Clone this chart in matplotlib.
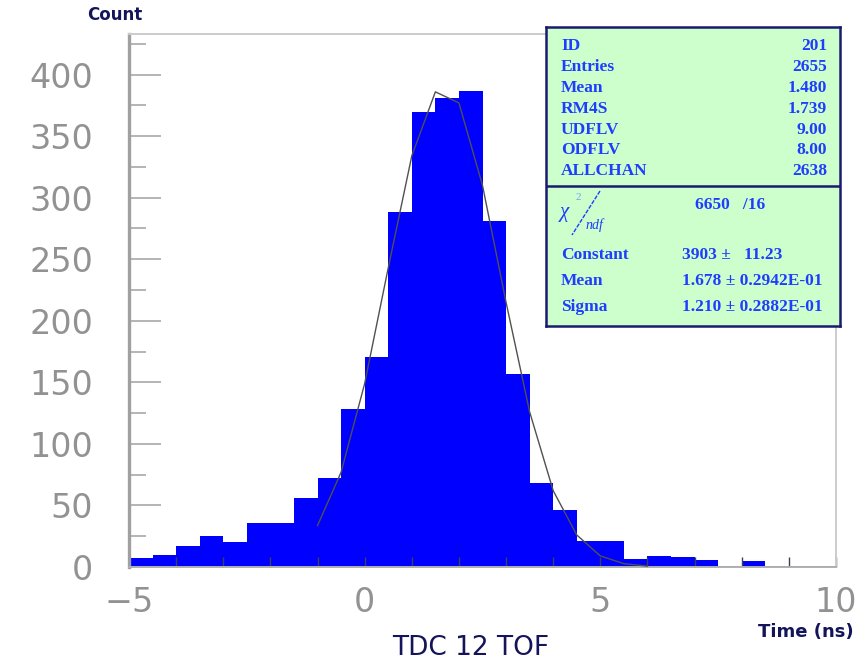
import numpy as np
import matplotlib
matplotlib.use("Agg")
import matplotlib.pyplot as plt
from matplotlib.lines import Line2D

# histogram: 30 bins of 0.5 ns from -5 to 10
bin_edges = [-5 + 0.5 * i for i in range(31)]
counts = [7, 10, 17, 25, 20, 36, 36, 56, 72, 128,
          171, 288, 370, 381, 387, 281, 157, 68, 46, 21,
          21, 6.5, 9, 8, 6, 1, 5, 1, 1, 1]

# gaussian fit polyline
fit_x = [-1.0, -0.5, 0.0, 0.5, 1.0, 1.5, 2.0,
         2.5, 3.0, 3.5, 4.0, 4.5, 5.0, 5.5, 6.0]
fit_y = [33.7, 77, 149, 243, 334, 386, 377,
         310, 215, 126, 62, 26, 9, 2.7, 0.7]

y_ticks = [0, 50, 100, 150, 200, 250, 300, 350, 400]
x_ticks = [-5, 0, 5, 10]

stats_rows = [("ID", "201"), ("Entries", "2655"), ("Mean", "1.480"),
              ("RM4S", "1.739"), ("UDFLV", "9.00"), ("ODFLV", "8.00"),
              ("ALLCHAN", "2638")]
chi2_text = "6650   /16"
fit_rows = [("Constant", "3903 ±   11.23"),
            ("Mean", "1.678 ± 0.2942E-01"),
            ("Sigma", "1.210 ± 0.2882E-01")]

W, H = 864, 671
fig = plt.figure(figsize=(W / 100, H / 100), dpi=100)


def fx(px):
    return px / W


def fy(py):
    return 1 - py / H


ax = fig.add_axes([fx(129), fy(567), fx(836 - 129), (567 - 34) / H])
ax.bar(bin_edges[:-1], counts, width=0.5, align="edge",
       color="#0000ff", edgecolor="none", zorder=1)
ax.plot(fit_x, fit_y, color="#505050", lw=1.0, zorder=3)

ax.set_xlim(-5, 10)
ax.set_ylim(0, 433)

ax.set_yticks(y_ticks)
ax.set_yticks(np.arange(25, 433, 50), minor=True)
ax.set_xticks(x_ticks)
ax.set_xticks(np.arange(-5, 11, 1), minor=True)

gray_lbl = "#929292"
ax.tick_params(axis="y", which="major", direction="in", length=23, width=1.2,
               color="#a8a8a8", pad=26, labelsize=24, labelcolor=gray_lbl)
ax.tick_params(axis="y", which="minor", direction="in", length=12, width=1.2,
               color="#a8a8a8")
ax.tick_params(axis="x", which="both", direction="in", length=7, width=1.0,
               color="#404050", pad=14, labelsize=24, labelcolor=gray_lbl)
ax.tick_params(top=False, right=False)

ax.spines["left"].set_color("#a0a0a0")
ax.spines["left"].set_linewidth(2.4)
ax.spines["bottom"].set_color("#b0b0b0")
ax.spines["bottom"].set_linewidth(1.4)
for s in ("top", "right"):
    ax.spines[s].set_color("#cccccc")
    ax.spines[s].set_linewidth(1.4)

navy = "#14145a"
fig.text(fx(115), fy(15), "Count", ha="center", va="center",
         fontsize=12, fontweight="bold", color=navy)
fig.text(fx(806), fy(632), "Time (ns)", ha="center", va="center",
         fontsize=13, fontweight="bold", color=navy)
fig.text(fx(471), fy(648), "TDC 12 TOF", ha="center", va="center",
         fontsize=19, color=navy)

# statistics box, local pixel coordinates from its top-left corner
bx0, by0, bw, bh = 546, 27, 294, 299
box = fig.add_axes([fx(bx0), fy(by0 + bh), bw / W, bh / H])
box.set_facecolor("#ccffcc")
box.set_xlim(0, bw)
box.set_ylim(bh, 0)
box.set_xticks([])
box.set_yticks([])
for s in box.spines.values():
    s.set_color("#1a1a70")
    s.set_linewidth(1.8)
box.axhline(159, color="#1a1a70", lw=1.8)

blue = "#1f3cff"
serif = ["Liberation Serif", "DejaVu Serif"]
tk = dict(fontsize=12.5, fontweight="bold", color=blue, family=serif, va="center")
for i, (name, val) in enumerate(stats_rows):
    yy = 19 + i * 20.9
    box.text(15, yy, name, ha="left", **tk)
    box.text(281, yy, val, ha="right", **tk)

box.text(14, 186, "χ", ha="left", fontsize=15, fontstyle="italic",
         color=blue, family=serif, va="center")
box.text(30, 171, "2", ha="left", fontsize=8, color="#7f9cff",
         family=serif, va="center")
box.add_line(Line2D([54, 26], [164, 208], color=blue, lw=1.0,
                    linestyle=(0, (3, 1))))
box.text(40, 198, "ndf", ha="left", fontsize=10, fontstyle="italic",
         color=blue, family=serif, va="center")
box.text(149, 178, chi2_text, ha="left", **tk)

for i, (name, val) in enumerate(fit_rows):
    yy = 228 + i * 26
    box.text(15, yy, name, ha="left", **tk)
    box.text(136, yy, val, ha="left", **tk)

fig.savefig("out.png", dpi=100)
